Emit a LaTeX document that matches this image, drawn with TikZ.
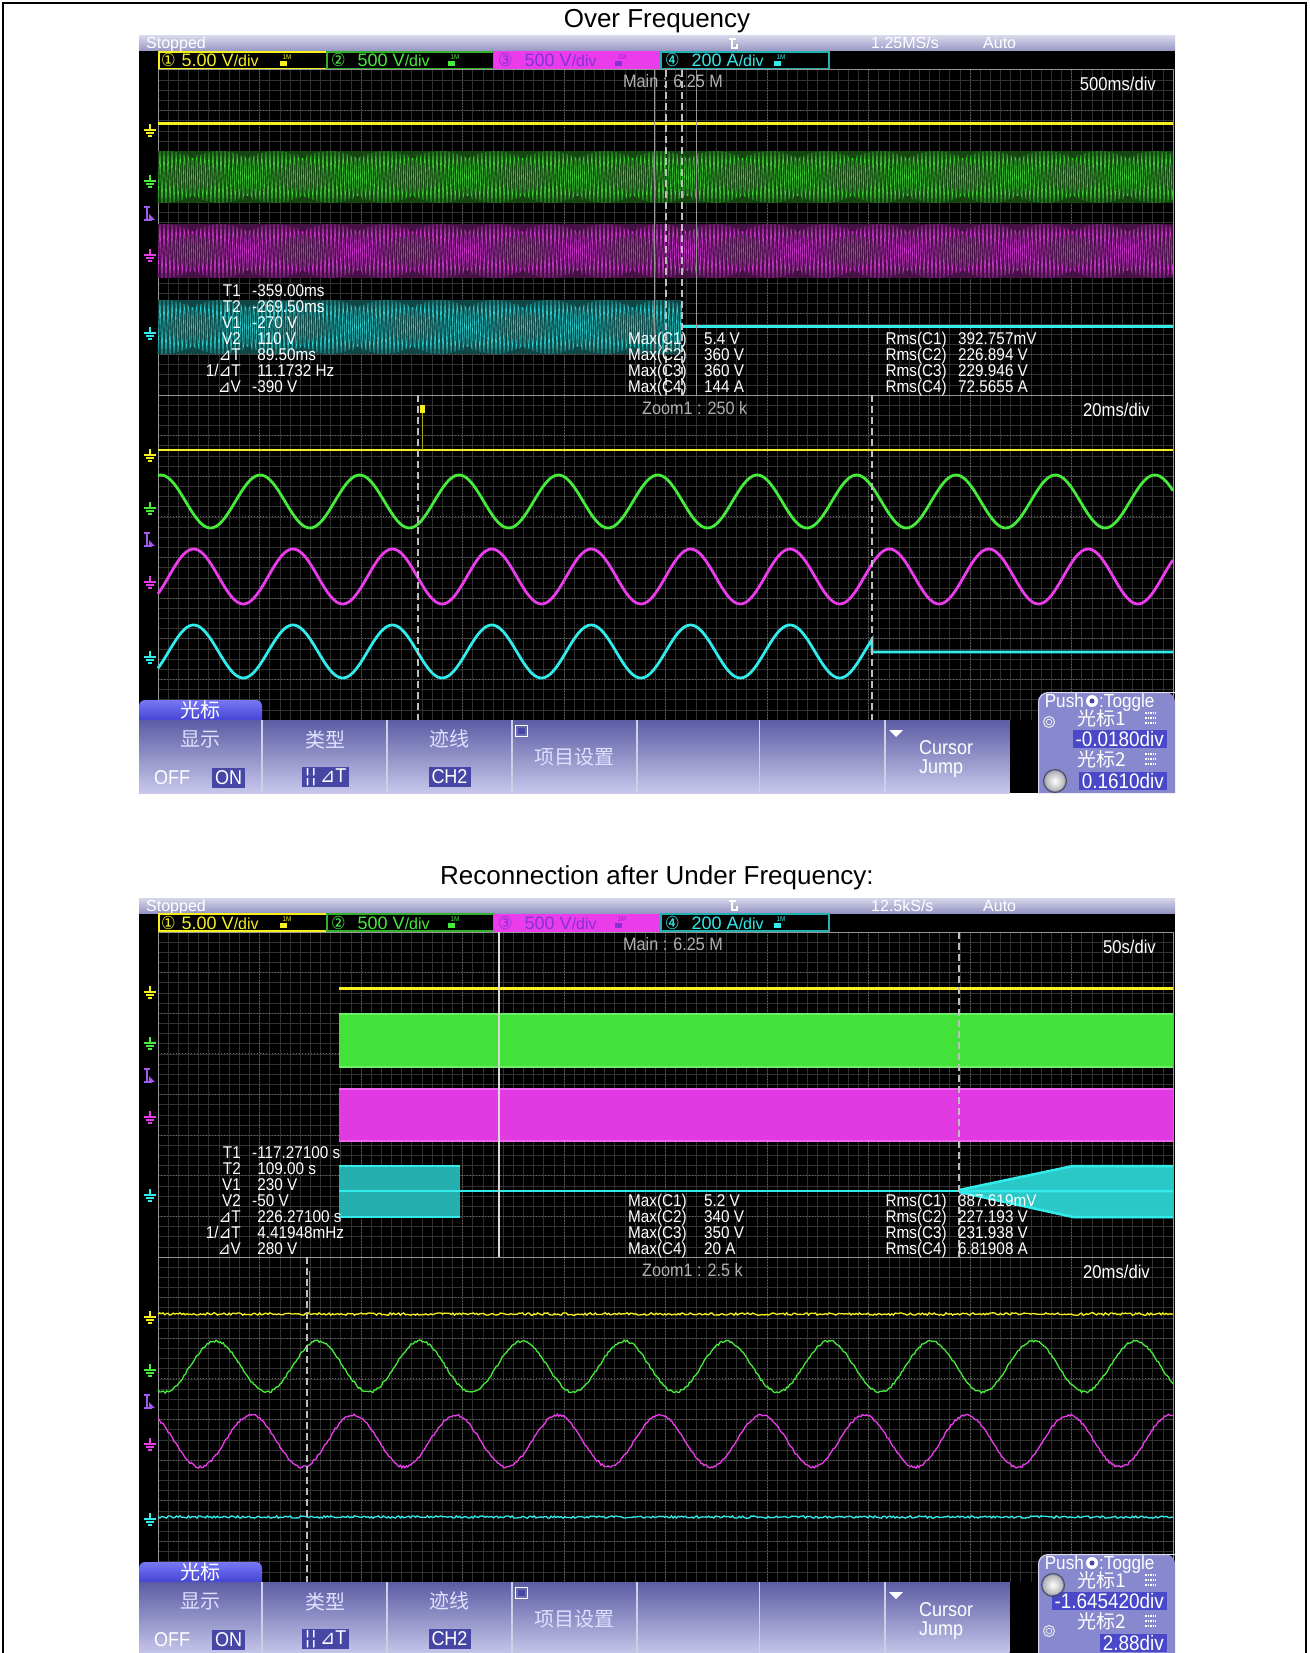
\documentclass[tikz,border=0pt]{standalone}
\usepackage{fontspec}
\setmainfont{Liberation Sans}
\newfontfamily\scopefont{Liberation Sans}[FakeStretch=0.9]
\newfontfamily\symfont{DejaVu Sans}[FakeStretch=0.9]
\newfontfamily\cjkfont{Noto Sans CJK SC}
\usetikzlibrary{positioning}

% colours of the scope screen
\definecolor{chYellow}{RGB}{245,240,30}
\definecolor{chGreen}{RGB}{70,235,60}
\definecolor{chMagenta}{RGB}{235,60,235}
\definecolor{chCyan}{RGB}{50,235,235}
\definecolor{chViolet}{RGB}{160,90,240}
\definecolor{chPurple}{RGB}{130,50,215}
\definecolor{gridMinor}{RGB}{50,50,50}
\definecolor{gridMajor}{RGB}{100,100,100}
\definecolor{frameGray}{RGB}{150,150,150}
\definecolor{labelGray}{RGB}{175,175,175}
\definecolor{barTop}{RGB}{214,214,234}
\definecolor{barBot}{RGB}{150,150,196}
\definecolor{btnTop}{RGB}{92,92,164}
\definecolor{btnBot}{RGB}{200,200,236}
\definecolor{tabTop}{RGB}{120,120,245}
\definecolor{tabBot}{RGB}{48,48,200}
\definecolor{selBox}{RGB}{70,70,165}
\definecolor{panelFill}{RGB}{136,136,206}
\definecolor{valBox}{RGB}{72,72,200}

\newcommand{\dT}{{\symfont ⊿}T}
\newcommand{\invdT}{1/{\symfont ⊿}T}
\newcommand{\dV}{{\symfont ⊿}V}
\newcommand{\perdiv}{{\fontsize{16}{16}\selectfont/div}}

\tikzset{
  scopetext/.style={font=\scopefont\fontsize{17}{17}\selectfont, text=white, inner sep=0pt},
  readlabel/.style={scopetext, anchor=base east},
  readvalue/.style={scopetext, anchor=base west},
  bartext/.style={font=\fontsize{16}{16}\selectfont, text=white, inner sep=0pt, anchor=base west},
  chantext/.style={font=\fontsize{18}{18}\selectfont, inner sep=0pt, anchor=base west},
  divtext/.style={font=\scopefont\fontsize{18.5}{18.5}\selectfont, text=white, inner sep=0pt, anchor=base east},
  graytext/.style={font=\scopefont\fontsize{18}{18}\selectfont, text=labelGray, inner sep=0pt, anchor=base west},
  menucjk/.style={font=\cjkfont\fontsize{20}{20}\selectfont, text=white!88!blue, inner sep=0pt},
  menutext/.style={font=\scopefont\fontsize{20}{20}\selectfont, text=white, inner sep=0pt},
  selbox/.style={menutext, fill=selBox, minimum height=20pt, inner xsep=3pt},
  paneltext/.style={font=\scopefont\fontsize{19}{19}\selectfont, text=white, inner sep=0pt},
  panelcjk/.style={font=\cjkfont\fontsize{19}{19}\selectfont, text=white, inner sep=0pt},
  valuebox/.style={font=\scopefont\fontsize{21}{21}\selectfont, text=white, fill=valBox, inner xsep=3pt, inner ysep=1.5pt, anchor=east},
  minorgrid/.style={gridMinor, line width=0.6pt},
  majorgrid/.style={gridMajor, line width=0.8pt, dash pattern=on 1pt off 2pt},
  cursorline/.style={white!75!black, line width=1.2pt, dash pattern=on 7pt off 4pt},
  trace/.style={line width=2.8pt},
  noisy/.style={line width=1.3pt},
  gndmark/.style={line width=1.1pt},
  title/.style={font=\fontsize{26}{26}\selectfont, inner sep=0pt, anchor=base},
}

% ground level marker of a channel
\newcommand{\gnd}[3]{%
  \draw[gndmark, #3] ({#1-6},#2) -- ({#1+6},#2) ({#1-4},{#2+3}) -- ({#1+4},{#2+3})
    ({#1-2},{#2+6}) -- ({#1+2},{#2+6}) (#1,{#2-6}) -- (#1,#2);
}
% trigger level marker
\newcommand{\trig}[2]{%
  \draw[gndmark, chViolet] (#1,{#2-7}) -- (#1,{#2+6}) ({#1-3},{#2-7}) -- ({#1+3},{#2-7})
    ({#1-3},{#2+6}) -- ({#1+5},{#2+6});
  \fill[chViolet] ({#1+2},{#2+6}) -- ({#1+8},{#2+6}) -- ({#1+2},{#2}) -- cycle;
}
% probe icon behind a channel setting
\newcommand{\chanicon}[3]{%
  \node[font=\scopefont\fontsize{7}{7}\selectfont, text=#3, inner sep=0pt] (#1) at (#2,57) {1M};
  \fill[#3] ({#2-7},61) rectangle ({#2},66);
}
% aliased carrier of the 500ms/div view
\newcommand{\denseband}[6]{%
  \fill[#1!30!black] (#2,{#4-#5}) rectangle (#3,{#4+#5});
  \draw[#1!90!black, line width=0.6pt] plot[domain=#2:#3, samples=#6]
    (\x,{#4-#5*sin(mod(\x,4)*90-1.636*\x)});
}
\newcommand{\cursoricon}[2]{%
  \draw[white, line width=1.4pt, dash pattern=on 1.5pt off 1pt] ({#1-5},{#2-5}) -- ({#1+6},{#2-5})
    ({#1-5},#2) -- ({#1+6},#2) ({#1-5},{#2+5}) -- ({#1+6},{#2+5});
}
\newcommand{\bigknob}[2]{%
  \shade[inner color=white, outer color=gray!60] (#1,#2) circle (10pt);
  \draw[black!70, line width=1pt] (#1,#2) circle (11.5pt);
}
\newcommand{\smallknob}[2]{%
  \draw[white!85!gray, line width=1pt] (#1,#2) circle (5.5pt);
  \draw[white!85!gray, line width=0.8pt] (#1,#2) circle (2.8pt);
}

% screen, channel bar, grid and labels
\newcommand{\scopeframe}[4]{%
  \fill[black] (139,36) rectangle (1175,793);
  \shade[top color=barTop, bottom color=barBot] (139,36) rectangle (1175,51);
  \node[bartext] (#1stopped) at (146,49) {Stopped};
  \node[bartext] (#1rate) at (871,49) {#2};
  \node[bartext] (#1auto) at (983,49) {Auto};
  \draw[white, line width=1.3pt] (729,39) -- (736,39) (732,39) -- (732,48) -- (737,48) -- (737,44);
  % channel settings
  \draw[chYellow, line width=1.2pt] (159,52) rectangle (327,69);
  \draw[chGreen!75!black, line width=1.2pt] (327,52) rectangle (494,69);
  \fill[chMagenta] (494,51.5) rectangle (661,69.5);
  \draw[chCyan!75!black, line width=1.2pt] (661,52) rectangle (829,69);
  \node[chantext, text=chYellow] (#1ch1) at (161,67) {{\symfont ①}\hspace{6pt}5.00 V\perdiv};
  \node[chantext, text=chGreen] (#1ch2) at (331,67) {{\symfont ②}\hspace{12pt}500 V\perdiv};
  \node[chantext, text=chPurple] (#1ch3) at (498,67) {{\symfont ③}\hspace{12pt}500 V\perdiv};
  \node[chantext, text=chCyan] (#1ch4) at (665,67) {{\symfont ④}\hspace{12pt}200 A\perdiv};
  \chanicon{#1icon1}{287}{chYellow}
  \chanicon{#1icon2}{455}{chGreen}
  \chanicon{#1icon3}{622}{chPurple}
  \chanicon{#1icon4}{781}{chCyan}
  % grid
  \foreach \i in {1,...,99}
    \draw[minorgrid] ({158+10.15*\i},70) -- ({158+10.15*\i},720);
  \foreach \j in {1,...,63}
    \draw[minorgrid] (158,{70+10.156*\j}) -- (1173,{70+10.156*\j});
  \foreach \i in {1,...,9}
    \draw[majorgrid] ({158+101.5*\i},70) -- ({158+101.5*\i},720);
  \foreach \j in {1,...,15}
    \draw[majorgrid] (158,{70+40.625*\j}) -- (1173,{70+40.625*\j});
  \draw[frameGray, line width=1pt] (158,70) rectangle (1173,720) (158,395) -- (1173,395);
  % channel levels
  \gnd{150}{130}{chYellow} \gnd{150}{181}{chGreen} \trig{147}{214}
  \gnd{150}{255}{chMagenta} \gnd{150}{333}{chCyan}
  \gnd{150}{455}{chYellow} \gnd{150}{508}{chGreen} \trig{147}{540}
  \gnd{150}{582}{chMagenta} \gnd{150}{657}{chCyan}
  % window labels
  \node[graytext] (#1main) at (623,88) {Main : 6.25 M};
  \node[divtext] (#1base) at (1156,91) {#3};
  \node[graytext] (#1zoom) at (642,414) {Zoom1 : #4};
  \node[divtext] (#1zbase) at (1150,416) {20ms/div};
}

% soft keys under the screen
\newcommand{\softkeys}[1]{%
  \shade[top color=tabTop, bottom color=tabBot, rounded corners=6pt] (139,700) rectangle (262,728);
  \foreach \bl/\br in {139/262, 262/387, 387/512, 512/637, 637/759.5, 759.5/885, 885/1009.5}
    \shade[top color=btnTop, bottom color=btnBot] (\bl,720) rectangle (\br,793);
  \foreach \s in {262, 387, 512, 637, 759.5, 885}
    \draw[white!70!btnTop, line width=1.2pt] (\s,720) -- (\s,793);
  \fill[black] (1009.5,720) rectangle (1038,793);
  \node[menucjk, text=white] (#1tab) at (200,710) {光标};
  \node[menucjk] (#1show) at (200,739) {显示};
  \node[menutext] (#1off) at (172,778) {OFF};
  \node[selbox] (#1on) at (228.5,778) {ON};
  \node[menucjk] (#1type) at (325,740) {类型};
  \node[selbox] (#1delta) at (325.5,777) {{\symfont ¦¦}\,\dT};
  \node[menucjk] (#1trace) at (449,739) {迹线};
  \node[selbox] (#1chan) at (449.5,777) {CH2};
  \draw[white, line width=1pt] (515,725) rectangle (527,736);
  \fill[selBox] (517.5,727.5) rectangle (524.5,733.5);
  \node[menucjk] (#1items) at (574,757) {项目设置};
  \fill[white] (889,730) -- (903,730) -- (896,737) -- cycle;
  \node[menutext] (#1cursor) at (946,748) {Cursor};
  \node[menutext] (#1jump) at (941,769) {Jump};
}
\newcommand{\cursorpanel}[3]{%
  \fill[panelFill] (1038,793) [rounded corners=10pt] -- (1038,692) -- (1175,692) [sharp corners] -- (1175,793) -- cycle;
  \draw[white!70!panelFill, line width=1pt] (1038.5,793) [rounded corners=10pt] -- (1038.5,692.5) -- (1175,692.5);
  \node[paneltext, anchor=base east] (#1push) at (1084,707) {Push};
  \fill[white] (1092,701) circle (6pt);
  \fill[selBox] (1092,701) circle (2.5pt);
  \node[paneltext, anchor=base west] (#1toggle) at (1099,707) {:Toggle};
  \node[panelcjk, anchor=west] (#1cur1) at (1077,718) {光标1};
  \cursoricon{1150}{718}
  \node[valuebox] (#1val1) at (1167,739) {#2};
  \node[panelcjk, anchor=west] (#1cur2) at (1077,759) {光标2};
  \cursoricon{1150}{759}
  \node[valuebox] (#1val2) at (1167,781) {#3};
}

\begin{document}
\begin{tikzpicture}[x=1pt, y=-1pt]
\useasboundingbox (0,0) rectangle (1309,1653);
\fill[white] (0,0) rectangle (1309,1653);
\draw[black, line width=2.5pt] (3,1660) -- (3,3) -- (1306,3) -- (1306,1660);
\pgfmathsetseed{5}

\node[title] (titleA) at (657,28) {Over Frequency};
\node[title] (titleB) at (657,884) {Reconnection after Under Frequency:};

%% over frequency
\begin{scope}
  \scopeframe{A}{1.25MS/s}{500ms/div}{250 k}
  % main window
  \draw[chYellow, line width=3pt] (158,124) -- (1173,124);
  \denseband{chGreen}{158}{1173}{177}{26}{1016}
  \denseband{chMagenta}{158}{1173}{251}{27}{1016}
  \denseband{chCyan}{158}{682}{327}{27}{525}
  \draw[chCyan, line width=3pt] (682,326) -- (1173,326);
  \draw[frameGray, line width=1pt] (654,70) rectangle (696,395);
  \draw[cursorline] (666,70) -- (666,395) (682,70) -- (682,395);
  % zoom window
  \draw[chYellow, trace] (158,450) -- (1173,450);
  \draw[chYellow!70!black, line width=1pt] (422,409) -- (422,450);
  \fill[chYellow] (420,405) rectangle (425,413);
  \draw[chGreen, trace] plot[domain=158:1173, samples=400]
    (\x,{501.5-26.5*cos(((\x-160.8)/99.4)*360)});
  \draw[chMagenta, trace] plot[domain=158:1173, samples=400]
    (\x,{576.5-27.5*cos(((\x-193.6)/99.4)*360)});
  \draw[chCyan, trace] plot[domain=158:872, samples=300]
    (\x,{651.5-26.5*cos(((\x-193.6)/99.4)*360)}) -- (872,652) -- (1173,652);
  \draw[cursorline] (418,395) -- (418,720) (872,395) -- (872,720);
  % readouts
  \foreach \lab/\val [count=\rw from 0] in {T1/-359.00ms, T2/-269.50ms, V1/-270 V,
      V2/\hphantom{-}110 V, \dT/\hphantom{-}89.50ms, \invdT/\hphantom{-}11.1732 Hz, \dV/-390 V}{
    \node[readlabel] (Alab\rw) at (241,{296+16*\rw}) {\lab};
    \node[readvalue] (Aval\rw) at (252,{296+16*\rw}) {\val};
  }
  \foreach \cn/\mx/\rms [count=\rw from 3] in {1/5.4 V/392.757mV, 2/360 V/226.894 V,
      3/360 V/229.946 V, 4/144 A/72.5655 A}{
    \node[readlabel] (Amaxl\cn) at (687,{296+16*\rw}) {Max(C\cn)};
    \node[readvalue] (Amaxv\cn) at (704,{296+16*\rw}) {\mx};
    \node[readlabel] (Armsl\cn) at (947,{296+16*\rw}) {Rms(C\cn)};
    \node[readvalue] (Armsv\cn) at (958,{296+16*\rw}) {\rms};
  }
  \softkeys{A}
  \cursorpanel{A}{-0.0180div}{0.1610div}
  \smallknob{1049}{722}
  \bigknob{1055}{781}
\end{scope}

%% reconnection after under frequency
\begin{scope}[shift={(0,862)}]
  \scopeframe{B}{12.5kS/s}{50s/div}{2.5 k}
  % main window
  \draw[chYellow, line width=3pt] (339,126) -- (1173,126);
  \fill[chGreen!96!black] (339,151) rectangle (1173,206);
  \draw[chGreen!80!white, line width=2pt] (339,152) -- (1173,152) (339,205) -- (1173,205);
  \fill[chMagenta!96!black] (339,226) rectangle (1173,280);
  \draw[chMagenta!80!white, line width=2pt] (339,227) -- (1173,227) (339,279) -- (1173,279);
  \fill[chCyan!75!black] (339,303) rectangle (460,356);
  \draw[chCyan, line width=2.5pt] (339,304) -- (460,304) (339,355) -- (460,355) (339,329) -- (959,329);
  \fill[chCyan!85!black] (959,329) -- (1073,303) -- (1173,303) -- (1173,356) -- (1073,356) -- cycle;
  \draw[chCyan, line width=2.5pt] (959,328) -- (1073,304) -- (1173,304) (959,330) -- (1073,355) -- (1173,355)
    (959,329) -- (1173,329);
  \draw[white!85!black, line width=1.2pt] (499,70) -- (499,395);
  \draw[cursorline] (959,70) -- (959,395);
  % zoom window
  \draw[chYellow, noisy] plot[domain=158:1173, samples=600] (\x,{452+1.2*rand});
  \draw[chYellow!70!black, line width=1pt] (309,409) -- (309,452);
  \draw[chGreen, noisy] plot[domain=158:1173, samples=700]
    (\x,{504.5-25.5*cos(((\x-215.6)/102.2)*360)+1.2*rand});
  \draw[chMagenta, noisy] plot[domain=158:1173, samples=700]
    (\x,{579-26*cos(((\x-250.9)/102.2)*360)+1.2*rand});
  \draw[chCyan, noisy] plot[domain=158:1173, samples=600] (\x,{655+1.2*rand});
  \draw[cursorline] (307,395) -- (307,720);
  % readouts
  \foreach \lab/\val [count=\rw from 0] in {T1/-117.27100 s, T2/\hphantom{-}109.00 s,
      V1/\hphantom{-}230 V, V2/-50 V, \dT/\hphantom{-}226.27100 s,
      \invdT/\hphantom{-}4.41948mHz, \dV/\hphantom{-}280 V}{
    \node[readlabel] (Blab\rw) at (241,{296+16*\rw}) {\lab};
    \node[readvalue] (Bval\rw) at (252,{296+16*\rw}) {\val};
  }
  \foreach \cn/\mx/\rms [count=\rw from 3] in {1/5.2 V/387.619mV, 2/340 V/227.193 V,
      3/350 V/231.938 V, 4/20 A/6.81908 A}{
    \node[readlabel] (Bmaxl\cn) at (687,{296+16*\rw}) {Max(C\cn)};
    \node[readvalue] (Bmaxv\cn) at (704,{296+16*\rw}) {\mx};
    \node[readlabel] (Brmsl\cn) at (947,{296+16*\rw}) {Rms(C\cn)};
    \node[readvalue] (Brmsv\cn) at (958,{296+16*\rw}) {\rms};
  }
  \softkeys{B}
  \cursorpanel{B}{-1.645420div}{2.88div}
  \bigknob{1053}{723}
  \smallknob{1049}{769}
\end{scope}
\end{tikzpicture}
\end{document}
